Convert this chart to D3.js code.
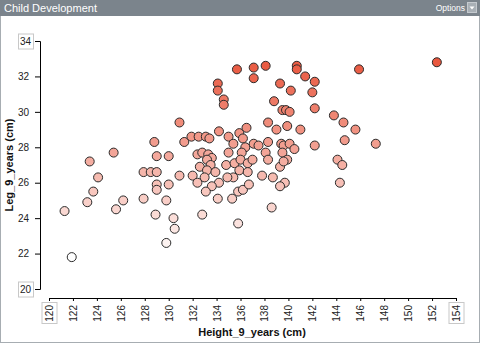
<!DOCTYPE html>
<html>
<head>
<meta charset="utf-8">
<script src="https://cdn.jsdelivr.net/npm/d3@7"></script>
<style>
  html, body { margin: 0; padding: 0; background: #fff; }
  svg { display: block; font-family: "Liberation Sans", Arial, sans-serif; }
</style>
</head>
<body>
<svg id="chart" width="480" height="343"></svg>
<script>
// ---- data ----
const title = "Child Development";
const xLabel = "Height_9_years (cm)";
const yLabel = "Leg_9_years (cm)";
const xTicks = [120,122,124,126,128,130,132,134,136,138,140,142,144,146,148,150,152,154];
const yTicks = [20,22,24,26,28,30,32,34];

const heights = [
  121.3,121.9,123.2,123.7,124.1,123.4,125.4,126.2,125.6,127.9,
  128.9,129.8,127.9,128.5,129.0,129.0,128.8,130.0,129.0,129.0,
  129.8,130.0,130.4,130.5,130.9,131.3,131.9,132.5,133.1,133.4,
  134.2,135.0,135.4,135.9,136.5,136.2,136.4,136.1,135.0,132.4,
  132.8,133.3,133.6,133.2,133.5,132.6,134.8,135.5,136.0,135.9,
  136.6,136.6,133.2,133.9,132.0,133.0,130.9,132.4,135.4,134.9,
  134.2,133.6,133.1,134.1,135.3,135.8,136.2,136.7,132.8,135.8,
  134.1,134.1,134.6,134.6,135.7,137.1,138.1,140.7,140.7,137.1,
  141.4,142.2,139.3,140.2,142.0,138.8,139.5,139.8,140.1,142.2,
  138.3,139.9,141.0,139.0,137.1,137.5,138.3,139.4,139.6,140.1,
  140.5,139.5,138.1,138.3,137.0,142.2,139.9,139.3,139.6,137.8,
  138.7,139.7,139.3,138.6,143.8,144.6,145.6,144.7,147.3,144.1,
  144.5,144.3,145.9,152.4
];
const legs = [
  24.4,21.8,24.9,25.5,26.3,27.2,27.7,25.0,24.5,25.1,
  24.2,22.6,26.6,26.6,26.6,27.5,28.3,27.5,25.9,25.6,
  25.0,25.9,24.0,23.4,29.4,28.3,28.6,28.6,28.6,28.5,
  28.9,28.6,28.2,28.8,29.1,28.5,28.0,27.7,27.7,27.6,
  27.7,27.6,27.4,27.3,27.0,26.9,27.0,27.1,27.3,26.7,
  27.1,26.6,26.7,26.6,26.4,26.3,26.4,26.0,26.3,26.3,
  26.0,25.8,25.5,25.1,25.1,25.5,25.6,25.9,24.2,23.7,
  31.6,31.2,30.7,30.4,32.4,32.5,32.6,32.6,32.4,31.9,
  32.0,31.7,31.6,31.2,31.1,30.6,30.1,30.1,30.0,30.2,
  29.4,29.2,29.0,29.0,28.2,28.1,28.3,28.2,28.1,28.2,
  27.9,27.7,27.7,27.3,27.3,28.1,27.3,26.9,27.2,26.4,
  26.3,26.0,25.8,24.6,29.8,29.4,29.0,28.4,28.2,27.3,
  27.0,26.0,32.4,32.8
];

// ---- drawing ----
const W = 480, H = 343;
const svg = d3.select("#chart");

// panel frame
svg.append("rect").attr("x",0.5).attr("y",0.5).attr("width",W-1).attr("height",H-1)
  .attr("fill","#fff").attr("stroke","#a7adb2");

// title bar
svg.append("rect").attr("x",0).attr("y",0).attr("width",W).attr("height",16).attr("fill","#7b848c");
svg.append("text").attr("x",4).attr("y",12).attr("fill","#fff").attr("font-size",11).text(title);
svg.append("text").attr("x",465).attr("y",11).attr("fill","#fff").attr("font-size",8.5)
  .attr("text-anchor","end").text("Options");
svg.append("rect").attr("x",467.5).attr("y",2.5).attr("width",9).attr("height",10)
  .attr("fill","#a9b0b6").attr("stroke","#c5cacf");
svg.append("path").attr("d","M469.5,6.5 L474.5,6.5 L472,9.5 Z").attr("fill","#fff");

// scales
const x = d3.scaleLinear().domain([120,154]).range([49,456]);
const y = d3.scaleLinear().domain([20,34]).range([289,41]);
const color = d3.scaleLinear().domain([d3.min(legs), d3.max(legs)]).range(["#ffffff","#e9583f"]);

// y axis
const gy = svg.append("g").attr("transform","translate(40,0)")
  .call(d3.axisLeft(y).tickValues(yTicks).tickFormat(d3.format("d")).tickSize(5).tickPadding(6));
gy.selectAll("path,line").attr("stroke","#000");
gy.selectAll("text").attr("font-size",10).attr("fill","#222")
  .attr("font-family","'Liberation Sans', Arial, sans-serif");
gy.selectAll(".tick").filter(d => d === yTicks[0] || d === yTicks[yTicks.length-1])
  .each(function() {
    const t = d3.select(this);
    t.select("text").attr("x",-9);
    t.insert("rect","text").attr("x",-21.5).attr("y",-7.5).attr("width",15).attr("height",15)
      .attr("fill","#fff").attr("stroke","#c8c8c8");
  });

// x axis
const gx = svg.append("g").attr("transform","translate(0,298)")
  .call(d3.axisBottom(x).tickValues(xTicks).tickFormat(d3.format("d")).tickSize(3));
gx.selectAll("path,line").attr("stroke","#000");
gx.selectAll("text").attr("font-size",10).attr("fill","#222")
  .attr("font-family","'Liberation Sans', Arial, sans-serif")
  .attr("transform","rotate(-90)").attr("text-anchor","end")
  .attr("x",-7).attr("y",0).attr("dy","0.35em");
gx.selectAll(".tick").filter(d => d === xTicks[0] || d === xTicks[xTicks.length-1])
  .each(function() {
    const t = d3.select(this);
    t.insert("rect","text").attr("x",-7.5).attr("y",4.5).attr("width",15).attr("height",21)
      .attr("fill","#fff").attr("stroke","#c8c8c8");
  });

// axis titles
svg.append("text").attr("x",252).attr("y",336).attr("text-anchor","middle")
  .attr("font-size",11).attr("font-weight","bold").attr("fill","#111").text(xLabel);
svg.append("text").attr("transform","translate(13,165) rotate(-90)").attr("text-anchor","middle")
  .attr("font-size",11).attr("font-weight","bold").attr("fill","#111").text(yLabel);

// points
const pts = heights.map((h,i) => ({h, l: legs[i]}));
svg.append("g").selectAll("circle").data(pts).join("circle")
  .attr("cx", d => x(d.h)).attr("cy", d => y(d.l)).attr("r",4.5)
  .attr("fill", d => color(d.l)).attr("stroke","#2a2a2a").attr("stroke-width",1);
</script>
</body>
</html>
